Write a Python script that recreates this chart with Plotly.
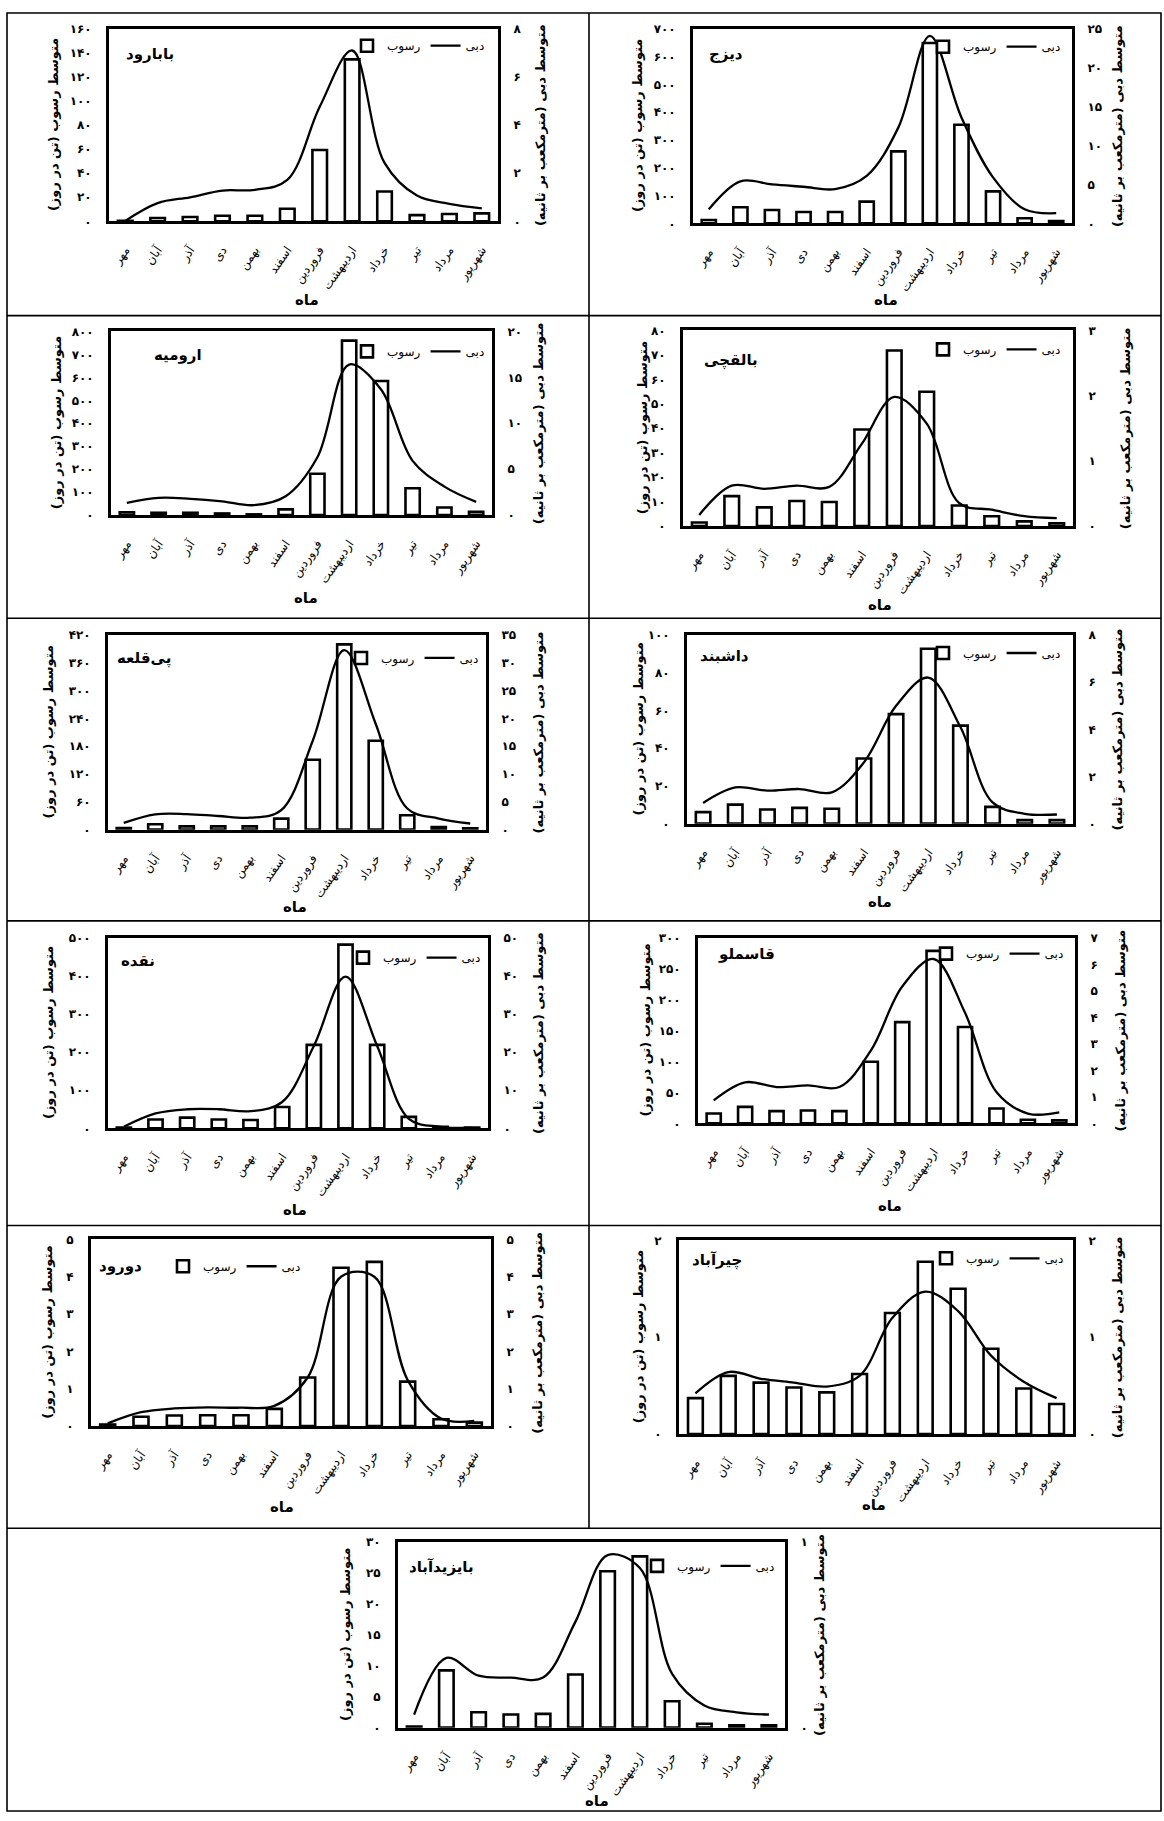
import plotly.graph_objects as go

W, H = 1164, 1821

# ---------------- data ----------------
months = ["مهر", "آبان", "آذر", "دی", "بهمن", "اسفند",
          "فروردین", "اردیبهشت", "خرداد", "تیر", "مرداد", "شهریور"]

stations = ["بابارود", "دیزج", "ارومیه", "بالقچی", "پی‌قلعه", "داشبند",
            "نقده", "قاسملو", "دورود", "چیرآباد", "بایزیدآباد"]

# sediment (ton/day)  and  discharge (m3/s)
babarood_sed = [0.5, 2.8, 3.6, 4.7, 4.7, 10.5, 59.3, 134.6, 24.8, 5.2, 6.1, 6.6]
babarood_q = [0.02, 0.76, 1.0, 1.28, 1.31, 1.72, 4.76, 7.1, 2.43, 1.07, 0.73, 0.54]

dizaj_sed = [12, 58, 48, 41, 41, 78, 259, 649, 355, 115, 18, 8]
dizaj_q = [1.8, 5.4, 5.0, 4.7, 4.4, 6.1, 12.3, 24.1, 13.6, 5.9, 1.8, 1.3]

orumieh_sed = [12, 10, 10, 7, 3, 25, 180, 760, 584, 117, 33, 14]
orumieh_q = [1.33, 1.87, 1.77, 1.5, 1.08, 2.05, 6.3, 16.4, 13.7, 5.9, 3.1, 1.44]

balqachi_sed = [1.4, 12.2, 7.6, 10.2, 9.8, 39.5, 71.8, 54.9, 8.4, 4.0, 1.9, 1.1]
balqachi_q = [0.17, 0.62, 0.57, 0.62, 0.60, 1.26, 1.98, 1.57, 0.35, 0.25, 0.15, 0.12]

piqaleh_sed = [3.6, 11.5, 7, 7, 7, 23.7, 151, 400, 192, 31, 5.7, 2.9]
piqaleh_q = [1.2, 2.75, 2.8, 2.45, 2.15, 3.5, 16, 32.3, 19, 3.8, 2.0, 1.1]

dashband_sed = [6.1, 10.1, 7.5, 8.4, 7.9, 34.6, 58.1, 92.8, 52.0, 8.9, 1.9, 1.9]
dashband_q = [0.88, 1.54, 1.40, 1.47, 1.33, 2.6, 5.0, 6.2, 4.1, 0.9, 0.42, 0.39]

naqadeh_sed = [2, 23, 28, 23, 22, 56, 219, 482, 219, 30, 4, 2]
naqadeh_q = [0.4, 3.9, 5.0, 5.0, 4.5, 6.9, 21.6, 39.8, 21.6, 2.5, 0.4, 0.1]

qasemlou_sed = [16, 26.7, 19.7, 20.8, 19.7, 99.7, 163.7, 278.8, 155.7, 24, 5.9, 4.8]
qasemlou_q = [0.87, 1.55, 1.37, 1.43, 1.37, 2.74, 5.16, 6.2, 4.17, 1.18, 0.37, 0.41]

dorood_sed = [0.04, 0.25, 0.28, 0.29, 0.29, 0.46, 1.30, 4.24, 4.40, 1.19, 0.18, 0.09]
dorood_q = [0.07, 0.37, 0.47, 0.5, 0.49, 0.54, 1.3, 4.0, 4.0, 1.23, 0.2, 0.14]

chirabad_sed = [0.37, 0.60, 0.53, 0.48, 0.43, 0.62, 1.25, 1.78, 1.50, 0.88, 0.47, 0.31]
chirabad_q = [0.42, 0.64, 0.57, 0.53, 0.49, 0.6, 1.2, 1.47, 1.27, 0.81, 0.54, 0.37]

bayazidabad_sed = [0.2, 9.26, 2.5, 2.13, 2.23, 8.6, 25.3, 27.7, 4.26, 0.64, 0.37, 0.37]
bayazidabad_q = [0.07, 0.376, 0.28, 0.27, 0.27, 0.57, 0.93, 0.86, 0.29, 0.12, 0.083, 0.071]

sediment = [babarood_sed, dizaj_sed, orumieh_sed, balqachi_sed, piqaleh_sed, dashband_sed,
            naqadeh_sed, qasemlou_sed, dorood_sed, chirabad_sed, bayazidabad_sed]
discharge = [babarood_q, dizaj_q, orumieh_q, balqachi_q, piqaleh_q, dashband_q,
             naqadeh_q, qasemlou_q, dorood_q, chirabad_q, bayazidabad_q]

left_max = [160, 700, 800, 80, 420, 100, 500, 300, 5, 2, 30]
left_step = [20, 100, 100, 10, 60, 20, 100, 50, 1, 1, 5]
right_max = [8, 25, 20, 3, 35, 8, 50, 7, 5, 2, 1]
right_step = [2, 5, 5, 1, 5, 2, 10, 1, 1, 1, 1]

sed_name = "رسوب"
q_name = "دبی"
x_title = "ماه"
left_title = "متوسط رسوب (تن در روز)\u200f"
right_title = "متوسط دبی (مترمکعب بر ثانیه)\u200f"

# ---------------- layout geometry (pixels) ----------------
boxes = [(109, 498, 22, 216), (693, 1072, 22, 218),
         (111, 492, 327, 512), (683, 1073, 326, 523),
         (108, 486, 633, 829), (687, 1073, 633, 823),
         (108, 488, 938, 1130), (698, 1075, 938, 1125),
         (91, 491, 1242, 1430), (679, 1073, 1243, 1438),
         (398, 785, 1547, 1734)]
xtitle_pos = [(307, 295), (886, 295), (306, 596), (880, 603), (295, 907), (880, 902),
              (295, 1212), (890, 1208), (282, 1512), (874, 1510), (597, 1808)]
ltitle_x = [53, 637, 56, 642, 48, 638, 48, 646, 48, 638, 346]
rtitle_x = [540, 1117, 538, 1125, 538, 1117, 538, 1121, 538, 1117, 820]
name_pos = [(124, 47), (707, 47), (152, 351), (702, 356), (115, 657), (698, 654),
            (119, 961), (716, 954), (97, 1269), (690, 1263), (407, 1572)]
legend_pos = [(490, 39), (1066, 40), (490, 347), (1066, 345), (484, 656), (1066, 651),
              (486, 958), (1069, 954), (306, 1269), (1069, 1261), (780, 1571)]


def fa(n):
    return str(n).translate(str.maketrans("0123456789", "۰۱۲۳۴۵۶۷۸۹"))


def px(x):
    return x / W


def py(y):
    return 1 - y / H


FONT = "DejaVu Sans"
CLEAR = "rgba(0,0,0,0)"

fig = go.Figure()
layout = dict(width=W, height=H, margin=dict(l=0, r=0, t=0, b=0),
              paper_bgcolor="white", plot_bgcolor="white",
              font=dict(family=FONT, color="black", size=12),
              showlegend=True)
annotations = []
shapes = []

for i in range(11):
    n = i + 1
    xa = "xaxis" if n == 1 else f"xaxis{n}"
    xr = "x" if n == 1 else f"x{n}"
    yl_n, yr_n = 2 * n - 1, 2 * n
    yla = "yaxis" if yl_n == 1 else f"yaxis{yl_n}"
    ylr = "y" if yl_n == 1 else f"y{yl_n}"
    yra = f"yaxis{yr_n}"
    yrr = f"y{yr_n}"
    lg = "legend" if n == 1 else f"legend{n}"
    x0, x1, y0, y1 = boxes[i]

    fig.add_trace(go.Bar(
        x=months, y=sediment[i], name=sed_name, xaxis=xr, yaxis=ylr, legend=lg,
        width=0.45, marker=dict(color="white", line=dict(color="black", width=2.6)),
        hoverinfo="x+y"))
    fig.add_trace(go.Scatter(
        x=months, y=discharge[i], name=q_name, xaxis=xr, yaxis=yrr, legend=lg,
        mode="lines", line=dict(color="black", width=2.3, shape="spline", smoothing=1.0)))

    layout[xa] = dict(domain=[px(x0), px(x1)], anchor=ylr, type="category",
                      categoryorder="array", categoryarray=months, range=[-0.5, 11.5],
                      showline=True, linecolor="black", linewidth=2.8, mirror=True,
                      showgrid=False, zeroline=False, ticks="outside", ticklen=14,
                      tickcolor=CLEAR, tickangle=-55, tickfont=dict(size=12))
    lv = list(range(0, left_max[i] + 1, left_step[i]))
    rv = list(range(0, right_max[i] + 1, right_step[i]))
    layout[yla] = dict(domain=[py(y1), py(y0)], anchor=xr, range=[0, left_max[i]],
                       tickmode="array", tickvals=lv, ticktext=[fa(v) for v in lv],
                       showline=True, linecolor="black", linewidth=2.8, mirror=True,
                       showgrid=False, zeroline=False, ticks="outside", ticklen=12,
                       tickcolor=CLEAR, tickfont=dict(size=12, weight="bold"))
    layout[yra] = dict(domain=[py(y1), py(y0)], anchor=xr, overlaying=ylr, side="right",
                       range=[0, right_max[i]],
                       tickmode="array", tickvals=rv, ticktext=[fa(v) for v in rv],
                       showline=False, showgrid=False, zeroline=False, ticks="outside",
                       ticklen=12, tickcolor=CLEAR, tickfont=dict(size=12, weight="bold"))
    lx, ly = legend_pos[i]
    layout[lg] = dict(x=px(lx), y=py(ly), xanchor="right", yanchor="middle",
                      orientation="h", bgcolor=CLEAR, font=dict(size=12),
                      itemwidth=30, traceorder="normal", tracegroupgap=0)

    cy = (y0 + y1) / 2
    annotations.append(dict(x=px(ltitle_x[i]), y=py(cy), xref="paper", yref="paper",
                            text=left_title, textangle=-90, showarrow=False,
                            font=dict(size=13, weight="bold"), xanchor="center", yanchor="middle"))
    annotations.append(dict(x=px(rtitle_x[i]), y=py(cy), xref="paper", yref="paper",
                            text=right_title, textangle=-90, showarrow=False,
                            font=dict(size=13, weight="bold"), xanchor="center", yanchor="middle"))
    tx, ty = xtitle_pos[i]
    annotations.append(dict(x=px(tx), y=py(ty), xref="paper", yref="paper",
                            text=x_title, showarrow=False,
                            font=dict(size=15, weight="bold"), xanchor="center", yanchor="middle"))
    nx, ny = name_pos[i]
    annotations.append(dict(x=px(nx), y=py(ny), xref="paper", yref="paper",
                            text=stations[i], showarrow=False,
                            font=dict(size=15, weight="bold"), xanchor="left", yanchor="middle"))

# table grid
grid = dict(color="black", width=1.6)
shapes.append(dict(type="rect", xref="paper", yref="paper", x0=px(7), x1=px(1161),
                   y0=py(6), y1=py(1818), line=grid))
for yy in [311, 616, 921, 1228, 1533]:
    shapes.append(dict(type="line", xref="paper", yref="paper", x0=px(7), x1=px(1161),
                       y0=py(yy), y1=py(yy), line=grid))
shapes.append(dict(type="line", xref="paper", yref="paper", x0=px(589), x1=px(589),
                   y0=py(6), y1=py(1533), line=grid))

layout["annotations"] = annotations
layout["shapes"] = shapes
fig.update_layout(**layout)

fig.write_html("out.html", config={"displayModeBar": False},
               post_script="document.body.style.margin='0';")
